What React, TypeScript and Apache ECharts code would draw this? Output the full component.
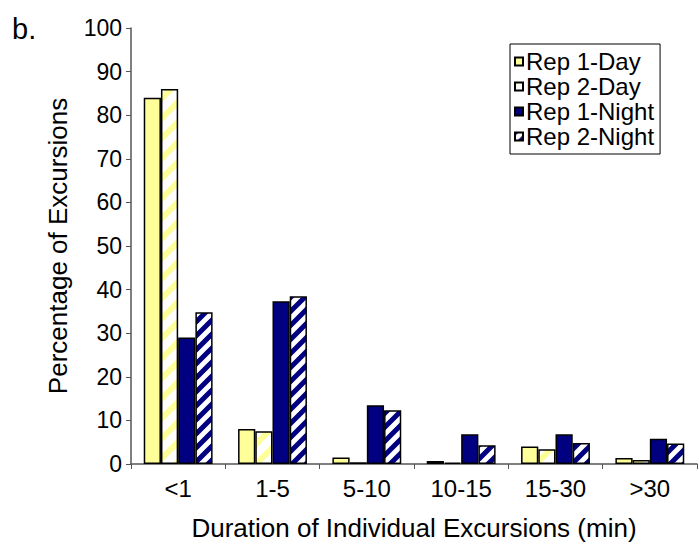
import React, { useEffect, useRef } from "react";
import * as echarts from "echarts";

const categories = ["<1", "1-5", "5-10", "10-15", "15-30", ">30"];
const seriesNames = ["Rep 1-Day", "Rep 2-Day", "Rep 1-Night", "Rep 2-Night"];
const rep1Day = [84, 8, 1.5, 0.7, 4, 1.4];
const rep2Day = [86, 7.5, 0.4, 0.3, 3.4, 0.9];
const rep1Night = [29, 37.3, 13.5, 6.8, 6.8, 5.8];
const rep2Night = [34.8, 38.5, 12.3, 4.3, 4.8, 4.7];
const yTicks = { min: 0, max: 100, interval: 10 };

function stripe(color: string, bg: string, size: number, lineW: number) {
  const c = document.createElement("canvas");
  c.width = size;
  c.height = size;
  const ctx = c.getContext("2d")!;
  ctx.fillStyle = bg;
  ctx.fillRect(0, 0, size, size);
  ctx.strokeStyle = color;
  ctx.lineWidth = lineW;
  ctx.beginPath();
  ctx.moveTo(-size / 2, size / 2);
  ctx.lineTo(size / 2, -size / 2);
  ctx.moveTo(0, size);
  ctx.lineTo(size, 0);
  ctx.moveTo(size / 2, size * 1.5);
  ctx.lineTo(size * 1.5, size / 2);
  ctx.stroke();
  return c;
}

export default function App() {
  const ref = useRef<HTMLDivElement>(null);
  useEffect(() => {
    document.body.style.margin = "0";
    const chart = echarts.init(ref.current!, null, { renderer: "svg" });
    const yellow = "#FFFF99";
    const navy = "#000080";
    const dayPattern = { image: stripe(yellow, "#ffffff", 20, 6), repeat: "repeat" };
    const nightPattern = { image: stripe(navy, "#ffffff", 14, 5), repeat: "repeat" };
    const font = "Liberation Sans, Arial, sans-serif";
    const fills: any[] = [yellow, dayPattern, navy, nightPattern];
    const data = [rep1Day, rep2Day, rep1Night, rep2Night];
    chart.setOption({
      animation: false,
      backgroundColor: "#ffffff",
      title: {
        text: "b.",
        left: 7,
        top: 9,
        textStyle: { fontFamily: font, fontSize: 29, fontWeight: "normal", color: "#000" },
      },
      legend: {
        orient: "vertical",
        left: 510,
        top: 44,
        padding: [5, 6, 5, 4],
        itemGap: 0,
        itemWidth: 8,
        itemHeight: 8,
        icon: "rect",
        borderColor: "#000",
        borderWidth: 1,
        backgroundColor: "#fff",
        textStyle: { fontFamily: font, fontSize: 24, lineHeight: 25, color: "#000", padding: [0, 0, 0, -2] },
        data: seriesNames,
      },
      grid: { left: 131, right: 2, top: 28, bottom: 84, containLabel: false },
      xAxis: {
        type: "category",
        data: categories,
        name: "Duration of Individual Excursions (min)",
        nameLocation: "middle",
        nameGap: 51,
        nameTextStyle: { fontFamily: font, fontSize: 26, color: "#000" },
        axisLine: { lineStyle: { color: "#555", width: 1.5 } },
        axisTick: { show: true, length: 5, alignWithLabel: false, lineStyle: { color: "#555" } },
        axisLabel: { fontFamily: font, fontSize: 24, color: "#000", margin: 12 },
      },
      yAxis: {
        type: "value",
        min: yTicks.min,
        max: yTicks.max,
        interval: yTicks.interval,
        name: "Percentage of Excursions",
        nameLocation: "middle",
        nameGap: 60,
        nameTextStyle: { fontFamily: font, fontSize: 26, color: "#000" },
        axisLine: { show: true, lineStyle: { color: "#555", width: 1.5 } },
        axisTick: { show: true, length: 5, lineStyle: { color: "#555" } },
        axisLabel: { fontFamily: font, fontSize: 23, color: "#000", margin: 9 },
        splitLine: { show: false },
      },
      series: seriesNames.map((name, i) => ({
        name,
        type: "bar",
        data: data[i],
        barGap: "0%",
        barCategoryGap: "27%",
        itemStyle: { color: fills[i], borderColor: "#000", borderWidth: 1.5 },
      })),
    });
    return () => chart.dispose();
  }, []);
  return <div ref={ref} style={{ width: 699, height: 548 }} />;
}
